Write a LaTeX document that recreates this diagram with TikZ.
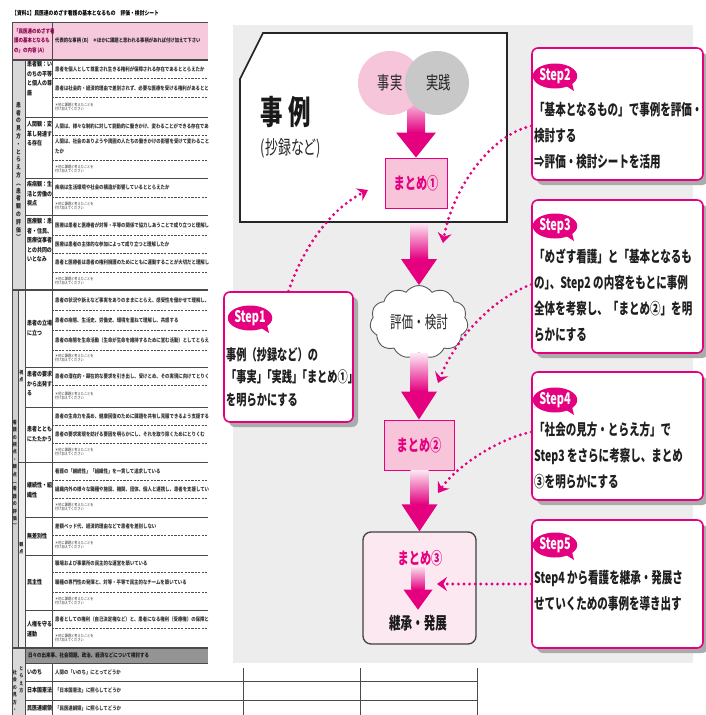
\documentclass[tikz,border=0pt]{standalone}
\usepackage{fontspec}
\setmainfont{Noto Sans CJK JP}
\newfontfamily\jp[FakeStretch=0.68]{Noto Sans CJK JP}
\newfontfamily\tjp[FakeStretch=0.8]{Noto Sans CJK JP}
\usetikzlibrary{shapes.symbols,shapes.geometric,arrows.meta,shadows,calc}
\definecolor{Mag}{HTML}{E4007F}
\definecolor{PinkFill}{HTML}{F7C4D9}
\definecolor{PinkLight}{HTML}{FCE8F0}
\definecolor{PanelGray}{HTML}{EDEDED}
\definecolor{CircGray}{HTML}{C8C8C8}
\definecolor{CircPink}{HTML}{F6C5D9}
\definecolor{HeadPink}{HTML}{F6CADC}
\definecolor{LineGray}{HTML}{4A4A4A}
\ExplSyntaxOn
\NewDocumentCommand\vstk{m}{\tl_map_inline:nn{#1}{##1\par}}
\ExplSyntaxOff
\newcommand\fatarrow[5]{%
  \shade[top color=Mag!10, bottom color=Mag] let \p1=#1, \p2=#2 in (\x2-#4pt,\y1) rectangle (\x2+#4pt,{\y2+#3pt});
  \fill[Mag] let \p1=#1, \p2=#2 in (\x2-#5pt,{\y2+#3pt}) -- (\x2+#5pt,{\y2+#3pt}) -- (\x2,\y2) -- cycle;}
\newcommand\bk{\hspace{-5.5pt}}
\begin{document}
\begin{tikzpicture}[x=1pt,y=-1pt,
 tline/.style={draw=LineGray,line width=0.7pt},
 tthick/.style={draw=LineGray,line width=1.3pt},
 tdash/.style={draw=black!70,line width=0.8pt,dash pattern=on 2.2pt off 1.2pt},
 ctext/.style={anchor=west,inner sep=0pt,font=\tjp\bfseries\fontsize{5.5}{6}\selectfont,text=black!80},
 ntext/.style={anchor=west,align=left,inner sep=0pt,font=\tjp\fontsize{4}{4.6}\selectfont,text=black!80},
 rhead/.style={align=left,inner sep=0pt,font=\tjp\bfseries\fontsize{6.2}{9.5}\selectfont,text=black!90},
 vlab/.style={inner sep=0pt,text width=6pt,align=center,font=\tjp\bfseries\fontsize{6}{7.8}\selectfont,text=black!85},
 vlabs/.style={inner sep=0pt,text width=5pt,align=center,font=\tjp\bfseries\fontsize{5}{7.4}\selectfont,text=black!85},
 stepbox/.style={draw=Mag,line width=1.6pt,fill=white,rounded corners=6pt,inner sep=0pt,
   drop shadow={shadow xshift=5pt,shadow yshift=-5pt,fill=black!33,opacity=1}},
 badge/.style={ellipse,fill=Mag,text=white,inner sep=0pt,minimum width=42pt,minimum height=25pt,
   font=\jp\bfseries\fontsize{16}{16}\selectfont},
 steptext/.style={anchor=north west,align=left,inner sep=0pt,text=black!88,
   font=\jp\bfseries\fontsize{15.5}{26}\selectfont},
 matome/.style={draw=Mag,line width=1pt,fill=PinkFill,text=Mag,inner sep=0pt,
   font=\jp\bfseries\fontsize{16.5}{16.5}\selectfont},
 dotconn/.style={draw=Mag,line width=3.2pt,line cap=round,dash pattern=on 0pt off 5.6pt,
   -{Stealth[length=10pt,width=14pt,inset=3.5pt]}}
]
\useasboundingbox (0,0) rectangle (706,715);
% ---------------- panel
\fill[PanelGray] (233,25) rectangle (693,663);

% ---------------- table
\node[anchor=west,inner sep=0pt,font=\tjp\bfseries\fontsize{6}{6}\selectfont] (title) at (12,13)
  {【資料1】民医連のめざす看護の基本となるもの　評価・検討シート};
\begin{scope}
\clip (0,18) rectangle (208,715);
\fill[HeadPink] (12,22) rectangle (208,60);
\fill[black!15] (12,60) rectangle (25,290);
\fill[black!18] (12,290) rectangle (18,648);
\fill[black!7] (18,290) rectangle (25,648);
\fill[black!15] (12,648) rectangle (25,715);
\fill[black!42] (25,648) rectangle (208,663);
\draw[tline] (12,22) -- (208,22);
\draw[tline] (12,22) -- (12,715);
\draw[tline] (52,22) -- (52,648);
\draw[tline] (52,663) -- (52,715);
\draw[tline] (25,60) -- (25,715);
\draw[tline] (18,290) -- (18,648);
\draw[tline] (18,462) -- (25,462);
\foreach \yy in {60,290,648} \draw[tthick] (12,\yy) -- (208,\yy);
\foreach \yy in {117,178,215,367,407,462,517,555,610,663} \draw[tline] (25,\yy) -- (208,\yy);
\foreach \yy in {78,97,135,160,197,235,253,272,310,330,350,385,425,443,480,498,535,572,592,628}
  \draw[tdash] (52,\yy) -- (208,\yy);
% header
\node[anchor=west,align=left,inner sep=0pt,text=Mag!60!black,font=\tjp\bfseries\fontsize{5.6}{9.6}\selectfont] (hA) at (14,41)
  {「民医連のめざす看\\護の基本となるも\\の」の内容 (A)};
\node[anchor=west,inner sep=0pt,text=black!85,font=\tjp\bfseries\fontsize{5.4}{6}\selectfont] (hB) at (55,41)
  {代表的な事柄 (B)　＊ほかに課題と思われる事柄があれば付け加えて下さい};
% content
\foreach \yy/\tt in {69/{患者を個人として尊重され生きる権利が保障される存在であるととらえたか},
 88/{患者は社会的・経済的理由で差別されず、必要な医療を受ける権利があるととらえたか},
 126/{人間は、様々な制約に対して能動的に働きかけ、変わることができる存在であるととらえたか},
 141/{人間は、社会のありようや周囲の人たちの働きかけの影響を受けて変わることができ},
 151/{たか},
 187/{疾病は生活環境や社会の構造が影響しているととらえたか},
 225/{医療は患者と医療者が対等・平等の関係で協力しあうことで成り立つと理解したか},
 244/{医療は患者の主体的な参加によって成り立つと理解したか},
 262/{患者と医療者は患者の権利擁護のためにともに運動することが大切だと理解したか},
 300/{患者の状況や訴えなど事実をありのままにとらえ、感受性を働かせて理解し、共感する},
 320/{患者の病態、生活史、労働史、環境を重ねて理解し、共感する},
 340/{患者の病態を生命活動（生命が生命を維持するために営む活動）としてとらえ、援助する},
 376/{患者の潜在的・顕在的な要求を引き出し、受けとめ、その実現に向けてとりくむ},
 416/{患者の生命力を高め、健康回復のために課題を共有し克服できるよう支援する},
 434/{患者の要求実現を妨げる要因を明らかにし、それを取り除くためにとりくむ},
 471/{看護の「継続性」「組織性」を一貫して追求している},
 489/{組織内外の様々な職種や施設、機関、団体、個人と連携し、患者を支援している},
 526/{差額ベッド代、経済的理由などで患者を差別しない},
 563/{職場および事業所の民主的な運営を築いている},
 582/{職種の専門性の発揮と、対等・平等で民主的なチームを築いている},
 619/{患者としての権利（自己決定権など）と、患者になる権利（受療権）の保障と拡充のための運動},
 672/{人間の「いのち」にとってどうか},
 690/{「日本国憲法」に照らしてどうか},
 708/{「民医連綱領」に照らしてどうか}}
  \node[ctext] (ct\yy) at (55,\yy) {\tt};
\foreach \yy in {107,169,206,281,358,396,452,507,545,601,638}
  \node[ntext] (nt\yy) at (55,\yy) {＊他に課題と考えたことを\\付け加えてください};
\node[anchor=west,inner sep=0pt,text=black!90,font=\tjp\bfseries\fontsize{5.6}{6}\selectfont] (sec3h) at (28,655.5)
  {日々の出来事、社会問題、政治、経済などについて検討する};
\end{scope}
% row headers
\node[rhead,anchor=north west] (r1) at (27,61) {患者観：い\\のちの平等\\と個人の尊\\厳};
\node[rhead,anchor=north west] (r2) at (27,121) {人間観：変\\革し発達す\\る存在};
\node[rhead,anchor=north west] (r3) at (27,181) {疾病観：生\\活と労働の\\視点};
\node[rhead,anchor=north west] (r4) at (27,218) {医療観：患\\者・住民、\\医療従事者\\との共同の\\いとなみ};
\node[rhead,anchor=west] (r5) at (27,328) {患者の立場\\に立つ};
\node[rhead,anchor=west] (r6) at (27,384) {患者の要求\\から出発す\\る};
\node[rhead,anchor=west] (r7) at (27,434) {患者ととも\\にたたかう};
\node[rhead,anchor=west] (r8) at (27,490) {継続性・組\\織性};
\node[rhead,anchor=west] (r9) at (27,536) {無差別性};
\node[rhead,anchor=west] (r10) at (27,582) {民主性};
\node[rhead,anchor=west] (r11) at (27,629) {人権を守る\\運動};
\node[rhead,anchor=west] (r12) at (27,672) {いのち};
\node[rhead,anchor=west] (r13) at (27,690) {日本国憲法};
\node[rhead,anchor=west] (r14) at (27,708) {民医連綱領};
% vertical labels
\node[vlab] (vl1) at (18.5,171) {\vstk{患者の見方・とらえ方︵患者観の評価︶}};
\node[vlabs] (vl2) at (15,474) {\vstk{看護の視点・観点︵看護の評価︶}};
\node[vlabs] (vl3) at (21.5,376) {\vstk{視点}};
\node[vlabs] (vl4) at (21.5,548) {\vstk{観点}};
\node[vlabs,anchor=north] (vl5) at (21.5,666) {\vstk{とらえ方}};
\node[vlabs,anchor=north] (vl6) at (15,670) {\vstk{社会の見方・}};
% bottom rows extending right
\draw[tline] (25,681) -- (477,681);
\draw[tline] (25,700) -- (477,700);
\foreach \xx in {243,360,477} \draw[tline] (\xx,668) -- (\xx,715);

% ---------------- case box
\draw[fill=white,line width=1.7pt,draw=black!85] (263,33) -- (507,33) -- (507,222) -- (240,222) -- (240,79) -- cycle;
\node[inner sep=0pt,text=black!90,font=\jp\bfseries\fontsize{33}{33}\selectfont] (jirei) at (286,112) {事\hspace{6pt}例};
\node[inner sep=0pt,text=black!85,font=\jp\fontsize{19}{19}\selectfont] (shoroku) at (291,148) {(抄録など)};
\coordinate (cstart) at (418,96);
\coordinate (casebot) at (418,223);

% ---------------- main flow
\node[matome,minimum width=62pt,minimum height=50pt] (m1) at (416,183) {まとめ①};
\fatarrow{(cstart)}{(m1.north)}{25}{9}{20}
\node[circle,fill=CircPink,minimum size=64pt,inner sep=0pt,text=black!85,font=\jp\fontsize{18}{18}\selectfont] (c1) at (390,83) {事実};
\node[circle,fill=CircGray,minimum size=64pt,inner sep=0pt,text=black!85,font=\jp\fontsize{18}{18}\selectfont] (c2) at (437,83) {\hspace{3pt}実践};
\node[cloud,cloud puffs=11,cloud puff arc=110,aspect=1.35,draw=black!65,fill=white,line width=0.9pt,
  minimum width=98pt,minimum height=73pt,inner sep=0pt,text=black!85,font=\jp\fontsize{17}{17}\selectfont] (cloud) at (419,322) {評価・検討};
\node[matome,minimum width=70pt,minimum height=50pt] (m2) at (419,445) {まとめ②};
\node[draw=black!75,line width=1.3pt,fill=PinkLight,rounded corners=8pt,minimum width=113pt,minimum height=112pt] (m3) at (419.5,588) {};
\node[inner sep=0pt,text=Mag,font=\jp\bfseries\fontsize{16.5}{16.5}\selectfont] (t3) at (420,558) {まとめ③};
\node[inner sep=0pt,text=black!90,font=\jp\bfseries\fontsize{17}{17}\selectfont] (h3) at (418,623) {継承・発展};
\fatarrow{(casebot)}{(cloud.north)}{26}{9}{18}
\fatarrow{(cloud.south)}{(m2.north)}{28}{9}{18}
\fatarrow{(m2.south)}{(m3.north)}{27}{9}{18}
\fatarrow{(t3.south)}{($(h3.north)+(0,-5)$)}{20}{6.5}{14.5}

% ---------------- step boxes
\node[stepbox,minimum width=129pt,minimum height=130pt] (s1) at (288.5,357) {};
\node[stepbox,minimum width=171pt,minimum height=132pt] (s2) at (617.5,114) {};
\node[stepbox,minimum width=171pt,minimum height=153pt] (s3) at (617.5,276.5) {};
\node[stepbox,minimum width=171pt,minimum height=128pt] (s4) at (617.5,436) {};
\node[stepbox,minimum width=171pt,minimum height=128pt] (s5) at (617.5,584) {};
\foreach \bn/\bx/\by/\bt in {b1/250/318/Step1,b2/555/76/Step2,b3/555/226/Step3,b4/555/400/Step4,b5/555/545/Step5}{
  \node[badge] (\bn) at (\bx,\by) {\bt};
  \fill[Mag] ($(\bn)+(8,8)$) -- ($(\bn)+(19,15)$) -- ($(\bn)+(16,3)$) -- cycle;
}
\node[steptext,font=\jp\bfseries\fontsize{15}{22.5}\selectfont] (st1) at (226,347) {事例（抄録など）の\\「事実」\bk「実践」\bk「まとめ①」\\を明らかにする};
\node[steptext] (st2) at (534,102) {「基本となるもの」で事例を評価・\\検討する\\⇒評価・検討シートを活用};
\node[steptext] (st3) at (534,249) {「めざす看護」と「基本となるも\\の」\bk、Step2 の内容をもとに事例\\全体を考察し、「まとめ②」を明\\らかにする};
\node[steptext] (st4) at (534,422) {「社会の見方・とらえ方」で\\Step3 をさらに考察し、まとめ\\③を明らかにする};
\node[steptext] (st5) at (534,570) {Step4 から看護を継承・発展さ\\せていくための事例を導き出す};

% ---------------- dotted connectors
\coordinate (e1) at (368,190);
\coordinate (e2) at (443,243);
\coordinate (e3) at (438,383);
\coordinate (e4) at (438,493);
\coordinate (e5) at (437,584);
\draw[dotconn] (s1.north) .. controls (298,262) and (322,214) .. (e1);
\draw[dotconn] ($(s2.west)+(0,12)$) .. controls (490,135) and (452,190) .. (e2);
\draw[dotconn] ($(s3.west)+(0,8)$) .. controls (490,300) and (455,340) .. (e3);
\draw[dotconn] ($(s4.west)+(0,-4)$) .. controls (495,440) and (455,468) .. (e4);
\draw[dotconn] (s5.west) -- (e5);
\end{tikzpicture}
\end{document}
